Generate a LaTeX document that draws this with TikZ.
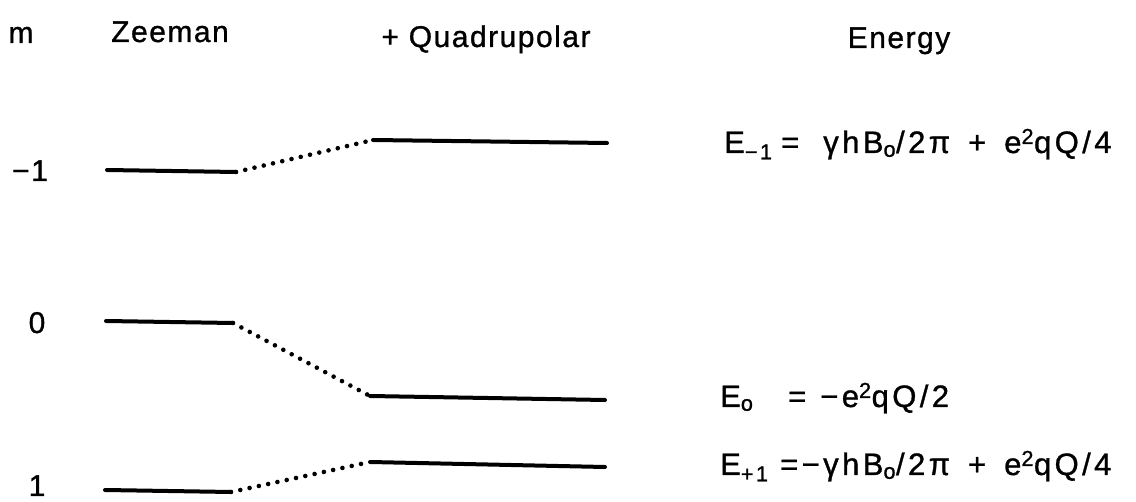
\documentclass[tikz,border=0pt]{standalone}
\usepackage{fontspec}
\setmainfont{Liberation Sans}[LetterSpace=5, FakeBold=1]
\newfontfamily\eqfont{Liberation Sans}[LetterSpace=11, FakeBold=1]
\newcommand{\lhs}[2]{\makebox[#1][l]{#2}}
\begin{document}
\begin{tikzpicture}[x=1pt,y=-1pt,
  level/.style={line width=4pt, line cap=round},
  conn/.style={line width=4.6pt, line cap=round, dash pattern=on 0pt off 9.5pt},
  lbl/.style={anchor=base, inner sep=0pt, font=\fontsize{30}{34}\selectfont},
  eq/.style={anchor=base west, inner sep=0pt, font=\eqfont\fontsize{31}{34}\selectfont}]
\useasboundingbox (0,0) rectangle (1136,502);
% header
\node[lbl] (hm) at (21,43) {m};
\node[lbl] (hz) at (170,42) {Zeeman};
\node[lbl] (hq) at (486,47) {+ Quadrupolar};
\node[lbl] (he) at (899,48) {Energy};
% m labels
\node[lbl] (lm1) at (30,181) {−1};
\node[lbl] (l0) at (37,333) {0};
\node[lbl] (lp1) at (37,496) {1};
% level endpoints
\coordinate (zaL) at (107,170); \coordinate (zaR) at (236,172);
\coordinate (zbL) at (106,321); \coordinate (zbR) at (233,323);
\coordinate (zcL) at (105,490); \coordinate (zcR) at (231,492);
\coordinate (qaL) at (373,140); \coordinate (qaR) at (607,143);
\coordinate (qbL) at (370,396); \coordinate (qbR) at (605,400);
\coordinate (qcL) at (370,462); \coordinate (qcR) at (605,467);
\draw[level] (zaL) -- (zaR);
\draw[level] (zbL) -- (zbR);
\draw[level] (zcL) -- (zcR);
\draw[level] (qaL) -- (qaR);
\draw[level] (qbL) -- (qbR);
\draw[level] (qcL) -- (qcR);
\draw[conn] (zaR) -- (qaL);
\draw[conn] (zbR) -- (qbL);
\draw[conn] (zcR) -- (qcL);
% energies
\node[eq] (ea) at (724,153) {\lhs{57pt}{E\textsubscript{−1}}=\hspace{24pt}γhB\textsubscript{o}/2π\hspace{18pt}+\hspace{18pt}e\textsuperscript{2}qQ/4};
\node[eq] (eb) at (720,407) {\lhs{68pt}{E\textsubscript{o}}=\hspace{14pt}−e\textsuperscript{2}qQ/2};
\node[eq] (ec) at (720,475) {\lhs{60pt}{E\textsubscript{+1}}=−γhB\textsubscript{o}/2π\hspace{18pt}+\hspace{18pt}e\textsuperscript{2}qQ/4};
\end{tikzpicture}
\end{document}
